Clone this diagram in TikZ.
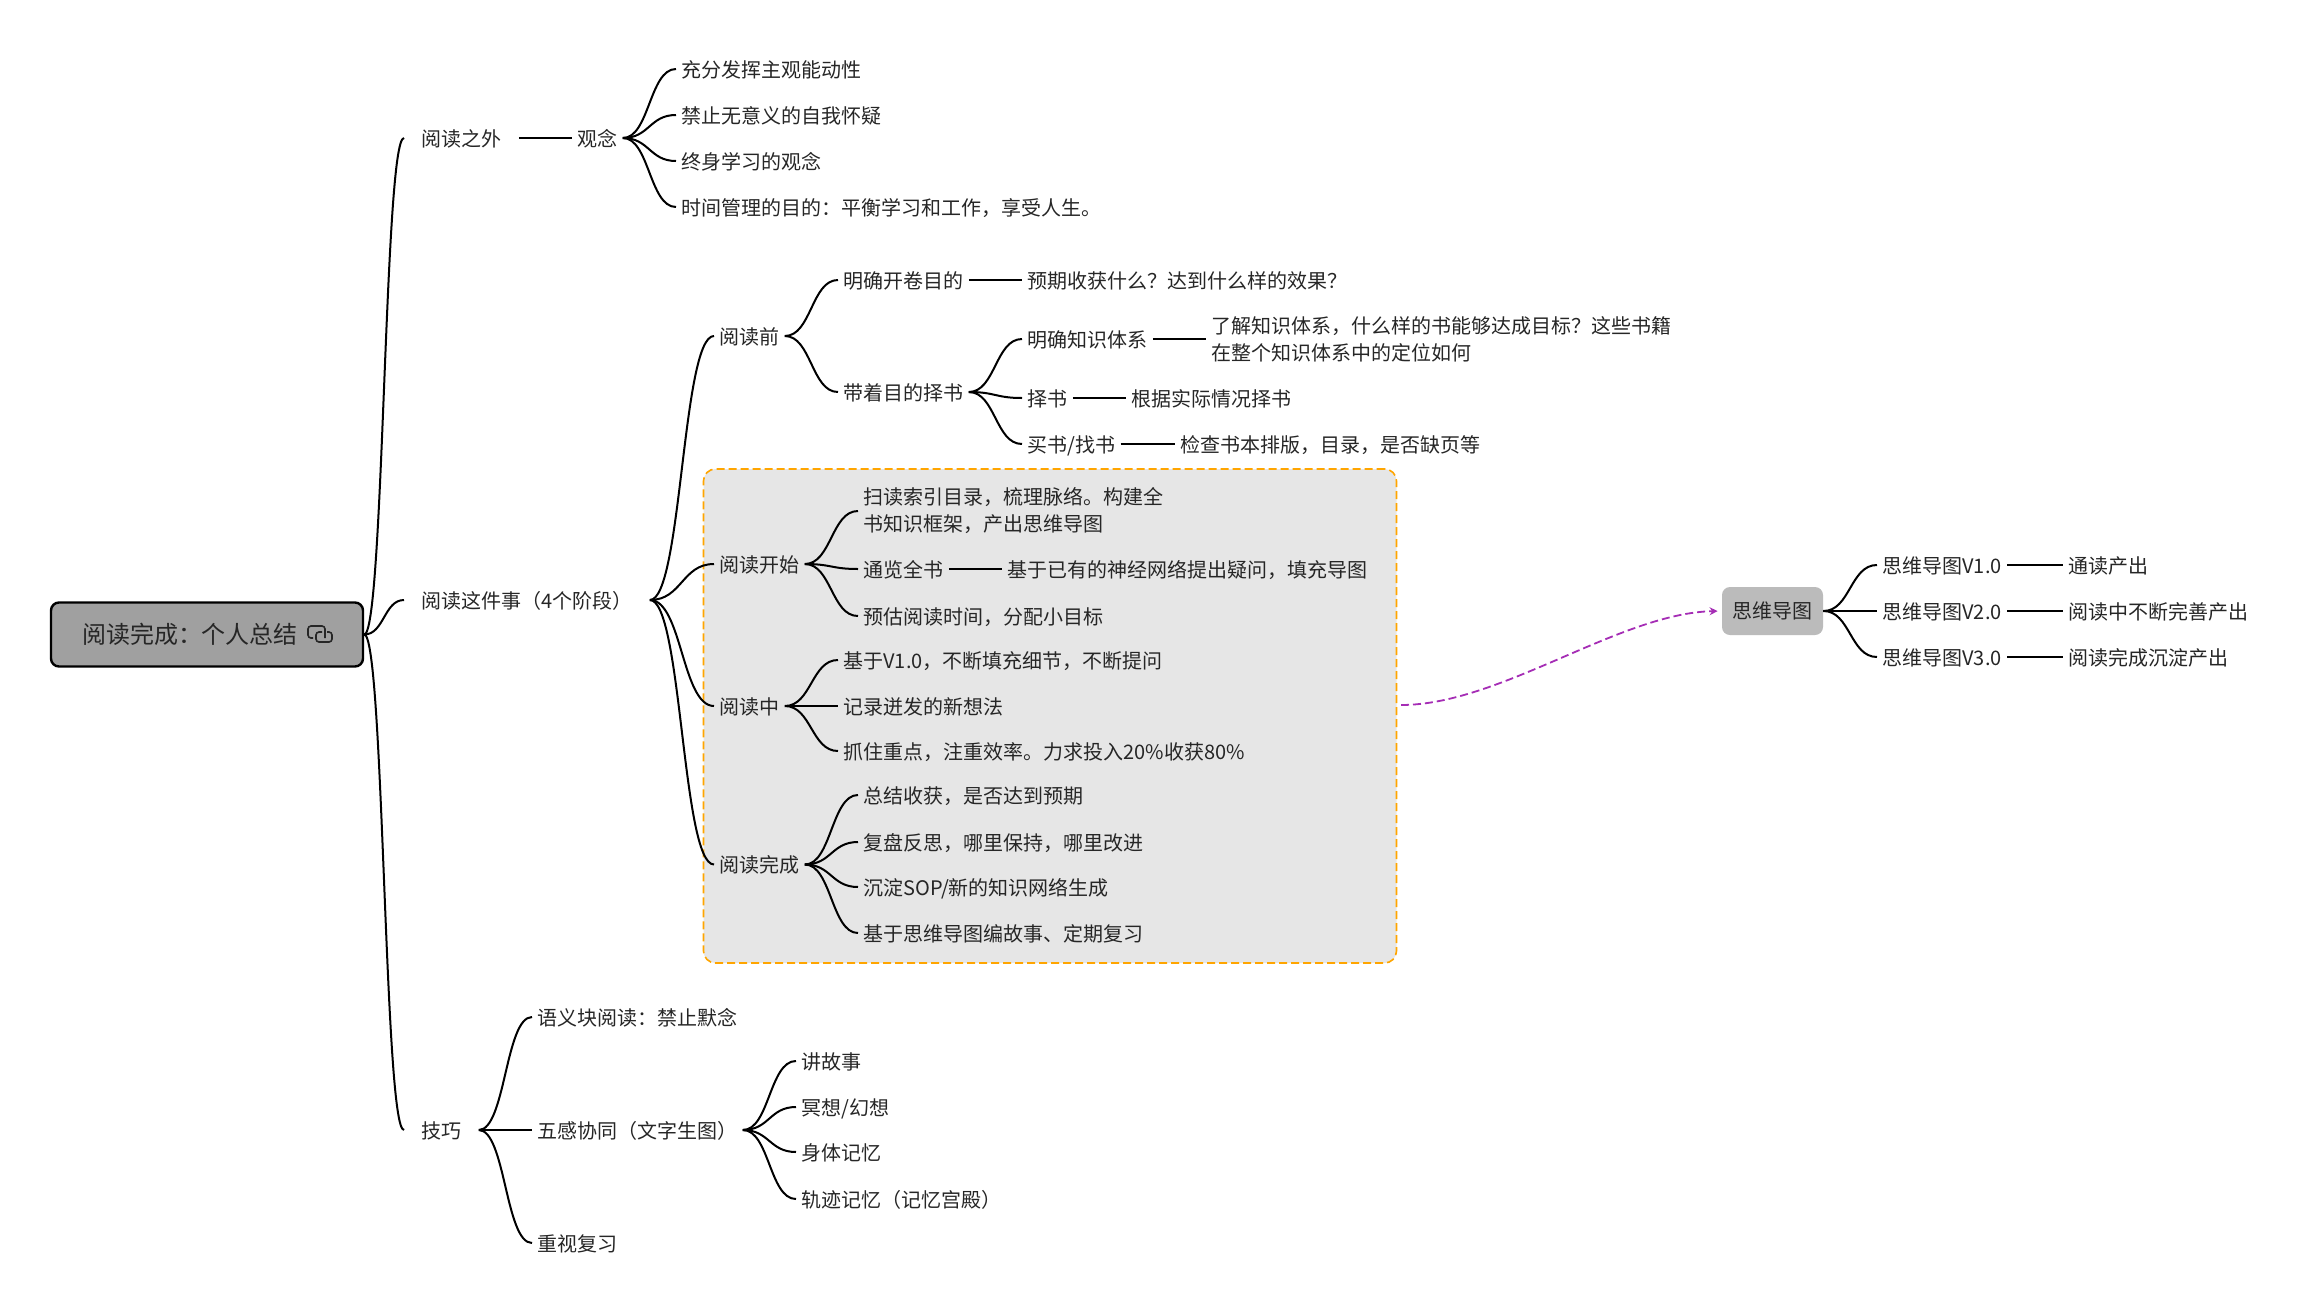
\documentclass[tikz,border=0pt]{standalone}
\usepackage{fontspec}
\setmainfont{Noto Sans CJK SC}
\usetikzlibrary{calc,arrows.meta}
\definecolor{rootgray}{HTML}{A0A0A0}
\definecolor{mapgray}{HTML}{BBBBBB}
\definecolor{boxgray}{HTML}{E6E6E6}
\definecolor{boxorange}{HTML}{FFA500}
\definecolor{relpurple}{HTML}{A52DB5}
\definecolor{inkgray}{HTML}{262626}
\tikzset{para/.style = {anchor=west, inner xsep=2.5pt, inner ysep=0pt, text=inkgray, align=left,
                        font=\fontsize{10pt}{13.5pt}\selectfont},
         topic/.style = {para, text height=9pt, text depth=1pt},
         major/.style = {topic, inner xsep=8.5pt},
         rootbox/.style = {draw=black, line width=1.2pt, fill=rootgray, rounded corners=4pt, minimum width=156pt,
                           minimum height=32pt, inner sep=0pt, text=inkgray, font=\fontsize{12pt}{14pt}\selectfont},
         mapbox/.style = {fill=mapgray, rounded corners=4pt, minimum width=50.5pt, minimum height=24pt,
                          inner sep=0pt, text=inkgray, font=\fontsize{10pt}{13.5pt}\selectfont},
         stagebox/.style = {draw=boxorange, fill=boxgray, line width=0.8pt, dash pattern=on 4pt off 2pt,
                            rounded corners=6pt, minimum width=346.5pt, minimum height=247pt, inner sep=0pt},
         branch/.style = {line width=1pt, black},
         relline/.style = {relpurple, line width=0.9pt, dash pattern=on 4pt off 2pt, -{Stealth[length=4pt,width=4pt]}, shorten >=2pt}}

\begin{document}
\begin{tikzpicture}[x=0.5pt,y=-0.5pt]
\useasboundingbox (0,0) rectangle (2304,1312);
\node[stagebox] (stages) at (1050,716) {};

\node[rootbox] (root) at (207,634.5) {阅读完成^^^^ff1a个人总结\hspace*{17pt}};
\draw[inkgray, line width=0.8pt, rounded corners=1.5pt] (313,638) -- (308,638) -- (308,626) -- (325,626) -- (325,638);
\draw[inkgray, line width=0.8pt, rounded corners=1.5pt] (322,632) -- (316,632) -- (316,642) -- (332,642) -- (332,632) -- (327,632);

% first level
\node[major] (outside) at (404,138) {阅读之外};
\node[major] (reading) at (404,600) {阅读这件事^^^^ff084个阶段^^^^ff09};
\node[major] (skills) at (404,1130) {技巧};

% outside reading
\node[topic] (idea) at (572,138) {观念};
\node[topic] (idea1) at (676,69) {充分发挥主观能动性};
\node[topic] (idea2) at (676,115) {禁止无意义的自我怀疑};
\node[topic] (idea3) at (676,161) {终身学习的观念};
\node[topic] (idea4) at (676,207) {时间管理的目的^^^^ff1a平衡学习和工作^^^^ff0c享受人生。};

% before
\node[topic] (before) at (714,336) {阅读前};
\node[topic] (aim) at (838,280) {明确开卷目的};
\node[topic] (aimtext) at (1022,280) {预期收获什么^^^^ff1f达到什么样的效果^^^^ff1f};
\node[topic] (choose) at (838,392) {带着目的择书};
\node[topic] (system) at (1022,339) {明确知识体系};
\node[para] (systemtext) at (1206,339) {了解知识体系^^^^ff0c什么样的书能够达成目标^^^^ff1f这些书籍\\在整个知识体系中的定位如何};
\node[topic] (pick) at (1022,398) {择书};
\node[topic] (picktext) at (1126,398) {根据实际情况择书};
\node[topic] (buy) at (1022,444) {买书/找书};
\node[topic] (buytext) at (1175,444) {检查书本排版^^^^ff0c目录^^^^ff0c是否缺页等};

% start
\node[topic] (start) at (714,564) {阅读开始};
\node[para] (start1) at (858,511) {扫读索引目录^^^^ff0c梳理脉络。构建全\\书知识框架^^^^ff0c产出思维导图};
\node[topic] (start2) at (858,569) {通览全书};
\node[topic] (start2text) at (1002,569) {基于已有的神经网络提出疑问^^^^ff0c填充导图};
\node[topic] (start3) at (858,616) {预估阅读时间^^^^ff0c分配小目标};

% during
\node[topic] (during) at (714,706) {阅读中};
\node[topic] (during1) at (838,660) {基于V1.0^^^^ff0c不断填充细节^^^^ff0c不断提问};
\node[topic] (during2) at (838,706) {记录迸发的新想法};
\node[topic] (during3) at (838,751) {抓住重点^^^^ff0c注重效率。力求投入20\%收获80\%};

% finish
\node[topic] (finish) at (714,864.5) {阅读完成};
\node[topic] (finish1) at (858,795) {总结收获^^^^ff0c是否达到预期};
\node[topic] (finish2) at (858,842) {复盘反思^^^^ff0c哪里保持^^^^ff0c哪里改进};
\node[topic] (finish3) at (858,887) {沉淀SOP/新的知识网络生成};
\node[topic] (finish4) at (858,933) {基于思维导图编故事、定期复习};

% skills
\node[topic] (chunk) at (532,1017) {语义块阅读^^^^ff1a禁止默念};
\node[topic] (senses) at (532,1130) {五感协同^^^^ff08文字生图^^^^ff09};
\node[topic] (review) at (532,1243) {重视复习};
\node[topic] (story) at (796,1061) {讲故事};
\node[topic] (imagine) at (796,1107) {冥想/幻想};
\node[topic] (body) at (796,1152) {身体记忆};
\node[topic] (track) at (796,1199) {轨迹记忆^^^^ff08记忆宫殿^^^^ff09};

% mind map
\node[mapbox] (map) at (1772.5,611) {思维导图};
\node[topic] (v1) at (1877,565) {思维导图V1.0};
\node[topic] (v2) at (1877,611) {思维导图V2.0};
\node[topic] (v3) at (1877,657) {思维导图V3.0};
\node[topic] (v1text) at (2063,565) {通读产出};
\node[topic] (v2text) at (2063,611) {阅读中不断完善产出};
\node[topic] (v3text) at (2063,657) {阅读完成沉淀产出};

\foreach \parent/\child in {root/outside,root/reading,root/skills,
                            idea/idea1,idea/idea2,idea/idea3,idea/idea4,
                            reading/before,reading/start,reading/during,reading/finish,
                            before/aim,before/choose,choose/system,choose/pick,choose/buy,
                            start/start1,start/start2,start/start3,
                            during/during1,during/during2,during/during3,
                            finish/finish1,finish/finish2,finish/finish3,finish/finish4,
                            skills/chunk,skills/senses,skills/review,
                            senses/story,senses/imagine,senses/body,senses/track,
                            map/v1,map/v2,map/v3}
  \draw[branch] (\parent.east) .. controls ($(\parent.east)!0.5!(\child.west |- \parent.east)$) and ($(\parent.east |- \child.west)!0.5!(\child.west)$) .. (\child.west);

\foreach \parent/\child in {outside/idea,aim/aimtext,system/systemtext,pick/picktext,buy/buytext,
                            start2/start2text,v1/v1text,v2/v2text,v3/v3text}
  \draw[branch] (\parent.east) -- (\child.west);

\coordinate (relstart) at (1401,705);
\draw[relline] (relstart) .. controls (1500,705) and (1620,613) .. (map.west);
\end{tikzpicture}
\end{document}
